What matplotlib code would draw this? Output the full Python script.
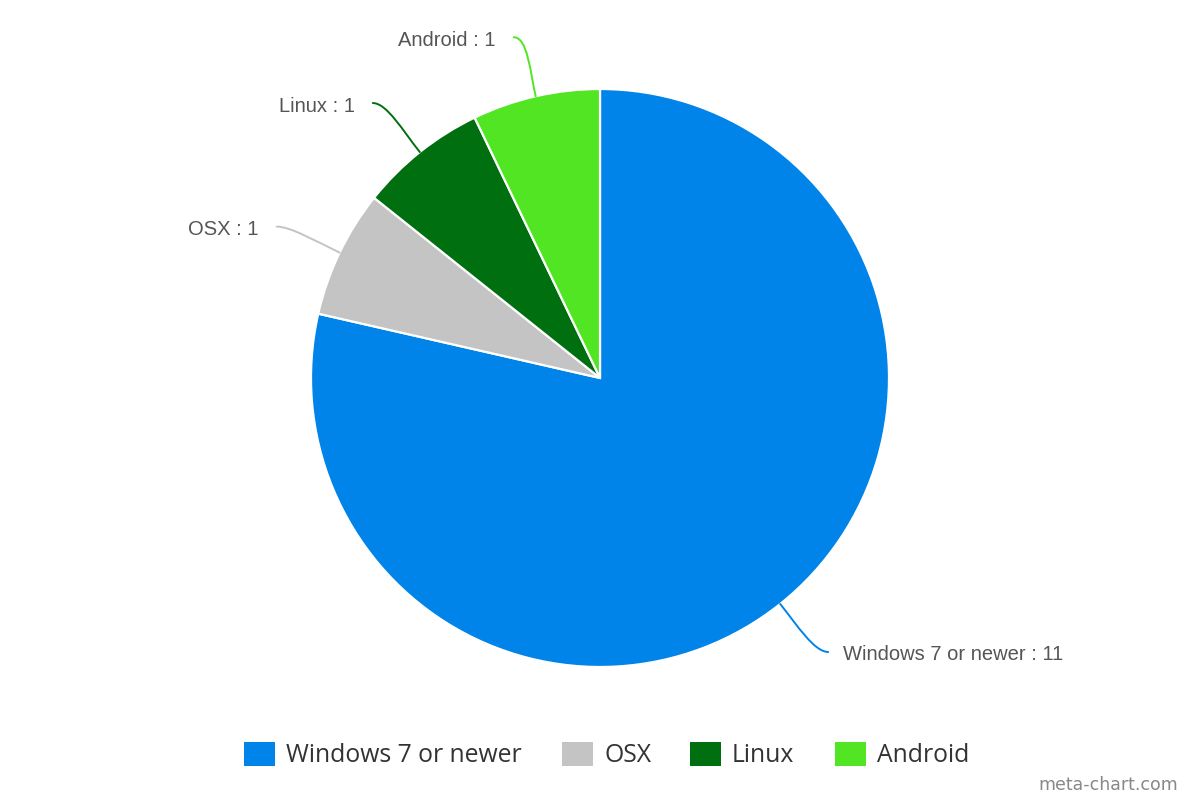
import matplotlib
matplotlib.use("Agg")
import matplotlib.pyplot as plt
import numpy as np
from matplotlib.path import Path
from matplotlib.patches import PathPatch, Rectangle

# ---- data ----
categories = ["Windows 7 or newer", "OSX", "Linux", "Android"]
values = [11, 1, 1, 1]
colors = ["#0084EA", "#C4C4C4", "#006F10", "#52E523"]

W, H = 1200, 800
fig = plt.figure(figsize=(12, 8), dpi=100)
ax = fig.add_axes([0, 0, 1, 1])

cx, cy, R = 600, 800 - 378, 289
wedges, _ = ax.pie(values, colors=colors, startangle=90, counterclock=False,
                   center=(cx, cy), radius=R, frame=True,
                   wedgeprops=dict(edgecolor="white", linewidth=1.6))
ax.set_xlim(0, W)
ax.set_ylim(0, H)
ax.set_aspect("equal")
ax.axis("off")

# label end offsets (pixels, relative to wedge edge point): dx, dy (screen y down)
offsets = [(48, 48), (-63, -26), (-47, -49), (-22, -59)]
total = sum(values)
cum = 0
for i, (cat, v) in enumerate(zip(categories, values)):
    mid = (cum + v / 2) / total * 360
    cum += v
    ang = np.deg2rad(90 - mid)
    ex, ey = cx + R * np.cos(ang), cy + R * np.sin(ang)
    dx, dy = offsets[i]
    tx, ty = ex + dx, ey - dy
    side = 1 if dx > 0 else -1
    rlen = 0.45 * np.hypot(dx, dy)
    p1 = (ex + rlen * np.cos(ang) * 0.9, ey + rlen * np.sin(ang) * 0.9)
    p2 = (tx - side * 14, ty)
    path = Path([(ex, ey), p1, p2, (tx, ty)],
                [Path.MOVETO, Path.CURVE4, Path.CURVE4, Path.CURVE4])
    ax.add_patch(PathPatch(path, fill=False, edgecolor=colors[i], lw=1.4,
                           capstyle="round"))
    gap = 15 if side > 0 else 18
    ax.text(tx + side * gap, ty - 3, f"{cat} : {v}", ha="left" if side > 0 else "right",
            va="center", fontsize=14.5, color="#555555", family="Liberation Sans")

# legend
sq_x = [244, 562, 690, 835]
for i, cat in enumerate(categories):
    ax.add_patch(Rectangle((sq_x[i], 800 - 766), 31, 24, facecolor=colors[i],
                           edgecolor="none"))
    ax.text(sq_x[i] + 42, 800 - 756, cat, ha="left", va="center",
            fontsize=17.8, color="#333333", family="Open Sans")

ax.text(1178, 800 - 785, "meta-chart.com", ha="right", va="center",
        fontsize=12.5, color="#888888", family="DejaVu Sans")

fig.savefig("out.png", dpi=100, facecolor="white")
